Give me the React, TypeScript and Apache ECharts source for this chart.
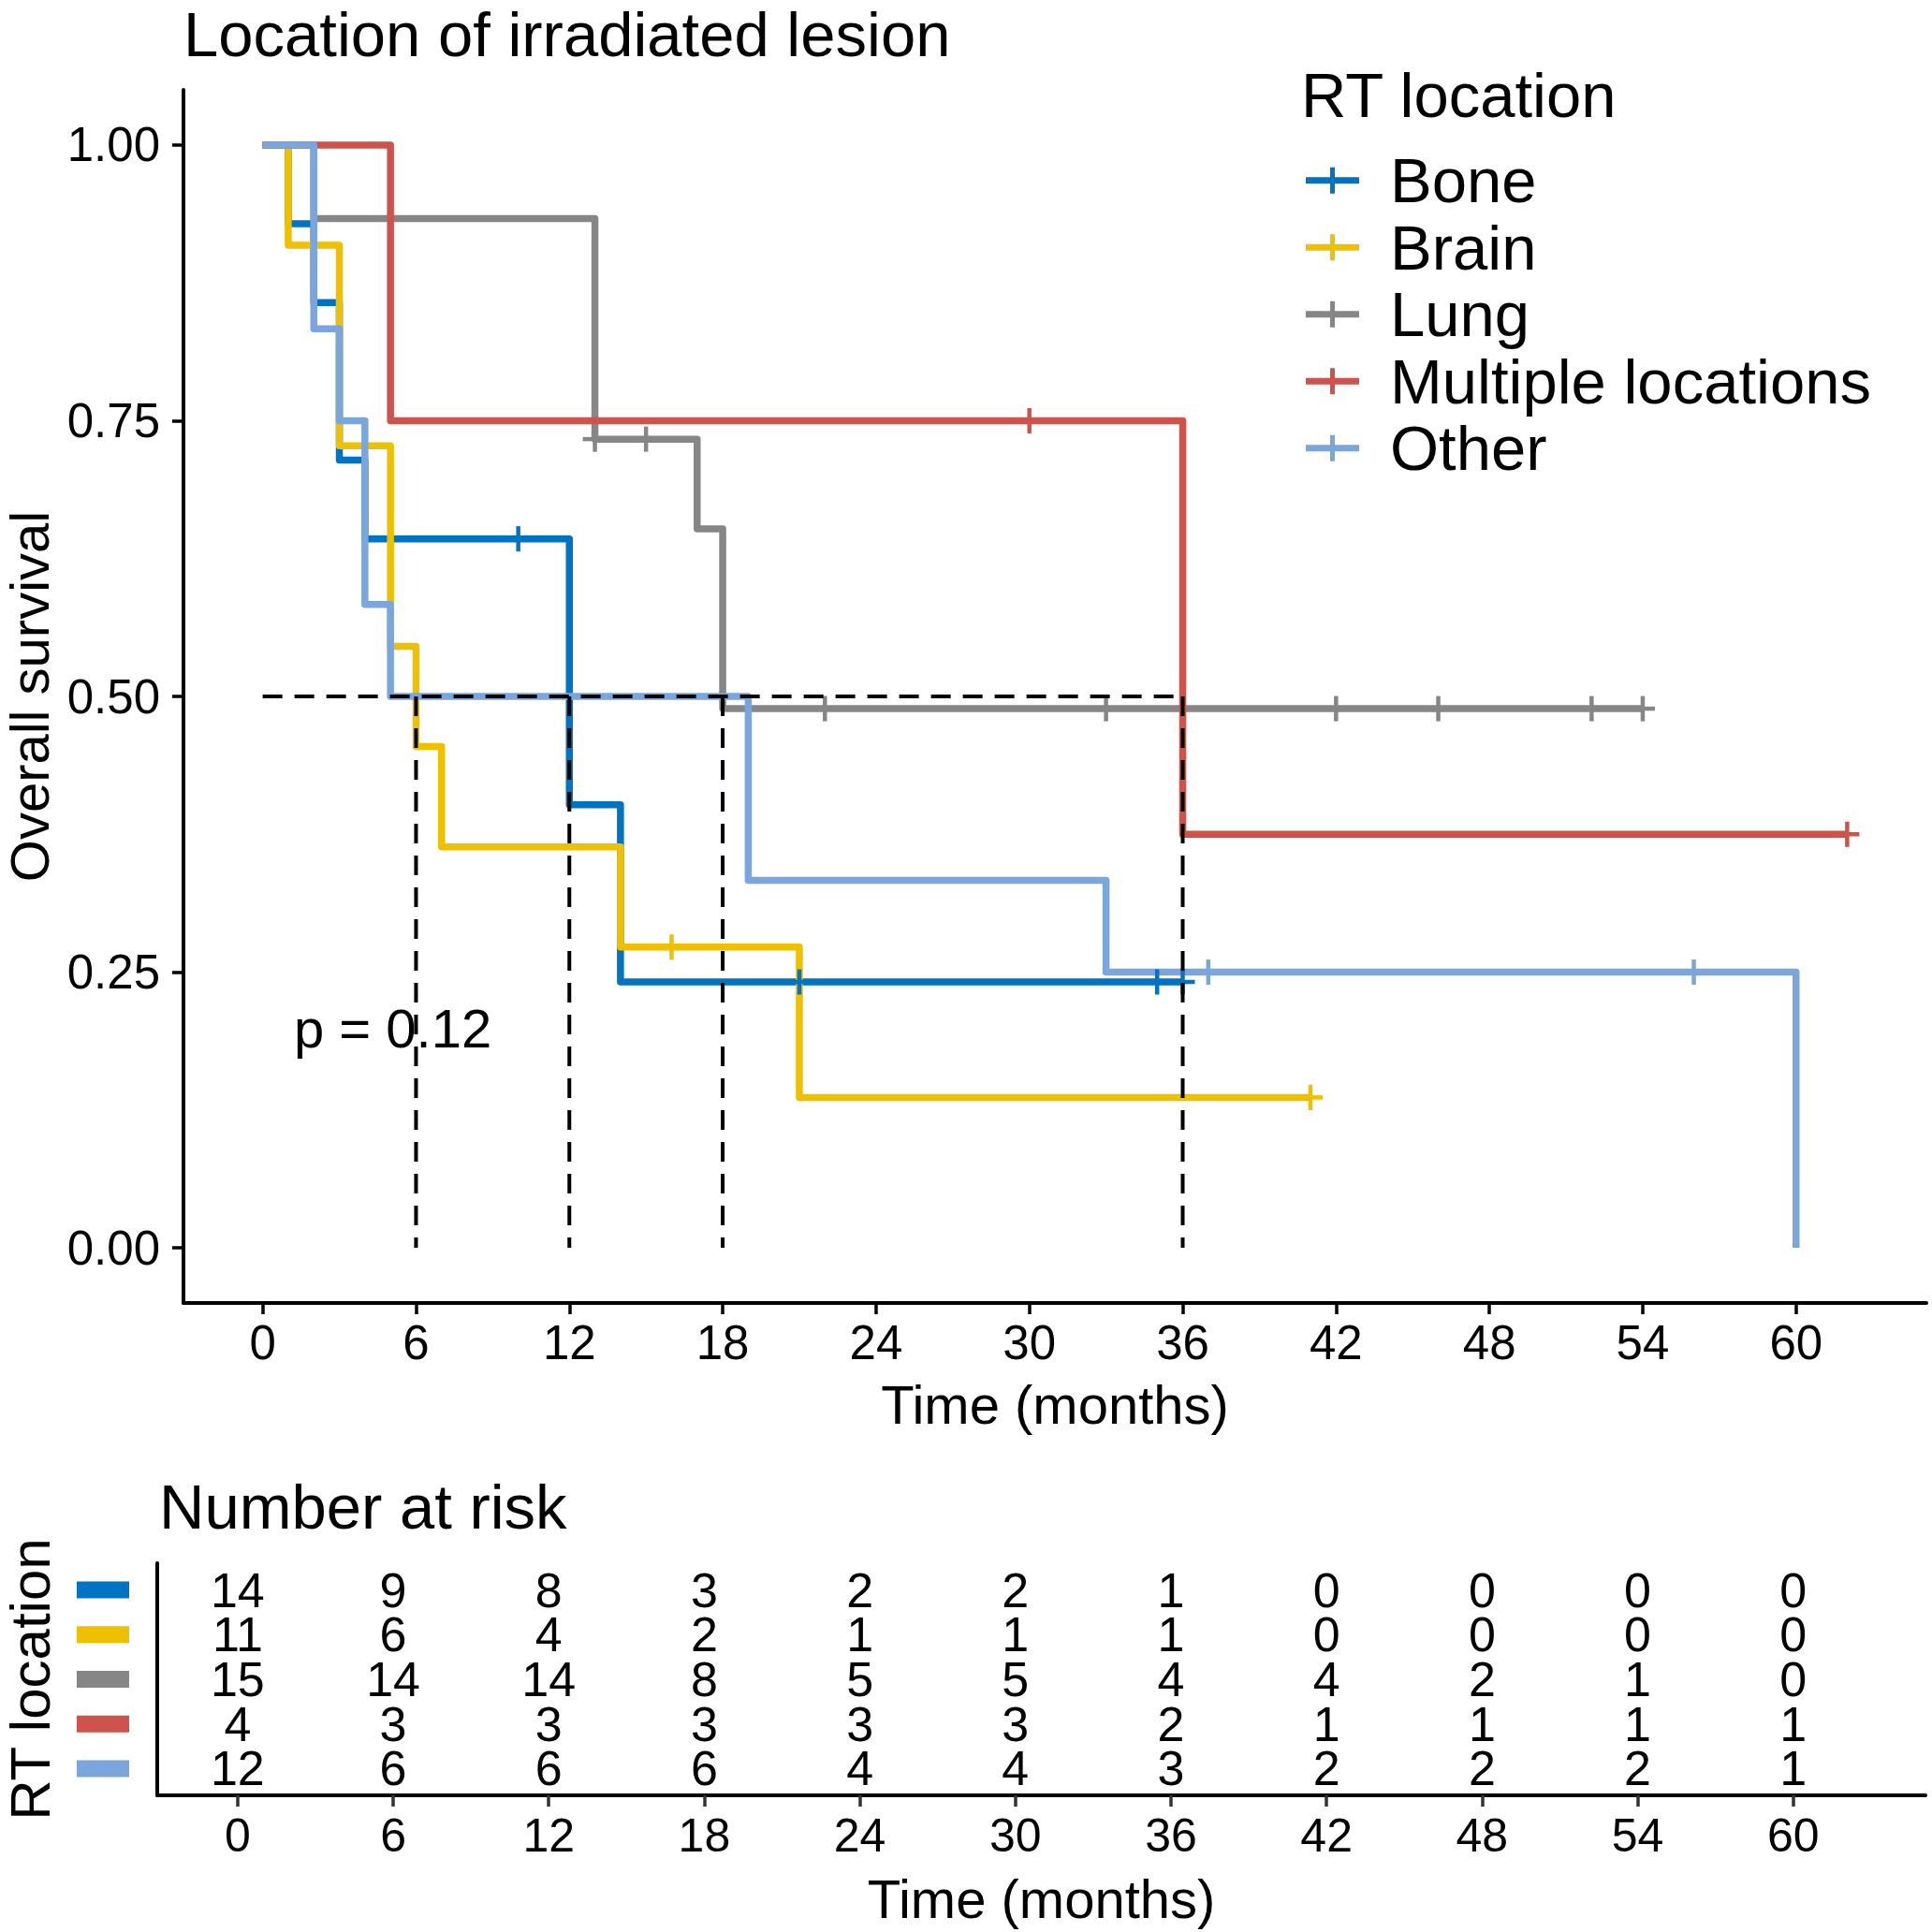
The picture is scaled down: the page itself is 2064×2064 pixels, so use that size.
import React, { useEffect, useRef } from "react";
import * as echarts from "echarts";

const FONT = '"Liberation Sans", Arial, Helvetica, sans-serif';

const groups = ["Bone", "Brain", "Lung", "Multiple locations", "Other"];
const colors = ["#0073C2", "#EFC000", "#868686", "#CD534C", "#7AA6DC"];

// Kaplan–Meier survival: [time in months, survival after that time]
const boneSteps = [[0, 1], [1, 0.9286], [2, 0.8571], [3, 0.7143], [4, 0.6429], [12, 0.4018], [14, 0.2411], [36, 0.2411]];
const brainSteps = [[0, 1], [1, 0.9091], [3, 0.7273], [5, 0.5455], [6, 0.4545], [7, 0.3636], [14, 0.2727], [21, 0.1364], [41, 0.1364]];
const lungSteps = [[0, 1], [2, 0.9333], [13, 0.7333], [17, 0.6519], [18, 0.4889], [54, 0.4889]];
const multipleSteps = [[0, 1], [5, 0.75], [36, 0.375], [62, 0.375]];
const otherSteps = [[0, 1], [2, 0.8333], [3, 0.75], [4, 0.5833], [5, 0.5], [19, 0.3333], [33, 0.25], [60, 0]];

// Censored observations: [time, survival]
const boneCensor = [[10, 0.6429], [21, 0.2411], [35, 0.2411], [36, 0.2411]];
const brainCensor = [[16, 0.2727], [41, 0.1364]];
const lungCensor = [[13, 0.7333], [15, 0.7333], [22, 0.4889], [33, 0.4889], [42, 0.4889], [46, 0.4889], [52, 0.4889], [54, 0.4889]];
const multipleCensor = [[30, 0.75], [62, 0.375]];
const otherCensor = [[37, 0.25], [56, 0.25]];

// Median survival guide lines
const medianSurvival = 0.5;
const medianTimes = [6, 12, 18, 36];

// Number at risk table
const riskTimes = [0, 6, 12, 18, 24, 30, 36, 42, 48, 54, 60];
const boneRisk = [14, 9, 8, 3, 2, 2, 1, 0, 0, 0, 0];
const brainRisk = [11, 6, 4, 2, 1, 1, 1, 0, 0, 0, 0];
const lungRisk = [15, 14, 14, 8, 5, 5, 4, 4, 2, 1, 0];
const multipleRisk = [4, 3, 3, 3, 3, 3, 2, 1, 1, 1, 1];
const otherRisk = [12, 6, 6, 6, 4, 4, 3, 2, 2, 2, 1];

const xTicks = [0, 6, 12, 18, 24, 30, 36, 42, 48, 54, 60];
const yTicks = [0, 0.25, 0.5, 0.75, 1];
const pValueText = "p = 0.12";

const stepsByGroup = [boneSteps, brainSteps, lungSteps, multipleSteps, otherSteps];
const censorByGroup = [boneCensor, brainCensor, lungCensor, multipleCensor, otherCensor];
const riskByGroup = [boneRisk, brainRisk, lungRisk, multipleRisk, otherRisk];

function buildOption() {
  const xMin = -3.1;
  const xMax = 65.1;

  const survivalLines = groups.map((g, i) => ({
    name: g,
    type: "line",
    xAxisIndex: 0,
    yAxisIndex: 0,
    step: "end",
    symbol: "none",
    showSymbol: false,
    data: stepsByGroup[i],
    z: 2,
    itemStyle: { color: colors[i] },
    lineStyle: { color: colors[i], width: 7.5, join: "round", cap: "butt" },
  }));

  const censorMarks = groups.map((g, i) => ({
    name: g,
    type: "custom",
    xAxisIndex: 0,
    yAxisIndex: 0,
    z: 3,
    itemStyle: { color: colors[i] },
    data: censorByGroup[i],
    renderItem: (_params: any, api: any) => {
      const p = api.coord([api.value(0), api.value(1)]);
      return {
        type: "group",
        children: [
          { type: "line", shape: { x1: p[0] - 13, y1: p[1], x2: p[0] + 13, y2: p[1] }, style: { stroke: colors[i], lineWidth: 4.5 } },
          { type: "line", shape: { x1: p[0], y1: p[1] - 13.5, x2: p[0], y2: p[1] + 13.5 }, style: { stroke: colors[i], lineWidth: 4.5 } },
        ],
      };
    },
  }));

  const lastMedian = Math.max(...medianTimes);
  const medianSegments = [
    [0, medianSurvival, lastMedian, medianSurvival],
    ...medianTimes.map((t) => [t, medianSurvival, t, 0]),
  ];

  const medianSeries = {
    name: "median",
    type: "custom",
    xAxisIndex: 0,
    yAxisIndex: 0,
    z: 4,
    data: medianSegments,
    encode: { x: [0, 2], y: [1, 3] },
    renderItem: (_params: any, api: any) => {
      const a = api.coord([api.value(0), api.value(1)]);
      const b = api.coord([api.value(2), api.value(3)]);
      return {
        type: "line",
        shape: { x1: a[0], y1: a[1], x2: b[0], y2: b[1] },
        style: { stroke: "#000", lineWidth: 4, lineDash: [21, 13] },
      };
    },
  };

  const riskData: number[][] = [];
  riskByGroup.forEach((vals, gi) => {
    const row = groups.length - gi;
    vals.forEach((v, ti) => riskData.push([riskTimes[ti], row, v]));
  });

  const riskSeries = {
    name: "risk",
    type: "custom",
    xAxisIndex: 1,
    yAxisIndex: 1,
    data: riskData,
    renderItem: (_params: any, api: any) => {
      const p = api.coord([api.value(0), api.value(1)]);
      return {
        type: "text",
        x: p[0],
        y: p[1],
        style: {
          text: String(api.value(2)),
          fontSize: 52,
          lineHeight: 40,
          fontFamily: FONT,
          fill: "#000",
          align: "center",
          verticalAlign: "middle",
        },
      };
    },
  };

  const rowRich: Record<string, any> = {};
  groups.forEach((_g, gi) => {
    rowRich["k" + (groups.length - gi)] = { width: 56, height: 18, backgroundColor: colors[gi] };
  });

  const nameStyle = { fontSize: 58, color: "#000", fontFamily: FONT };

  return {
    animation: false,
    backgroundColor: "#fff",
    title: [
      { text: "Location of irradiated lesion", left: 196, top: 3, padding: 0, textStyle: { fontSize: 67, fontWeight: "normal", color: "#000", fontFamily: FONT } },
      { text: "RT location", left: 1390, top: 68, padding: 0, textStyle: { fontSize: 67, fontWeight: "normal", color: "#000", fontFamily: FONT } },
      { text: "Number at risk", left: 170, top: 1576, padding: 0, textStyle: { fontSize: 67, fontWeight: "normal", color: "#000", fontFamily: FONT } },
    ],
    legend: {
      data: groups,
      orient: "vertical",
      left: 1395,
      top: 157,
      padding: 0,
      itemGap: 0,
      itemWidth: 57,
      itemHeight: 28,
      icon: "path://M0,10.5L57,10.5L57,17.5L0,17.5Z M26,0L31,0L31,28L26,28Z",
      textStyle: { fontSize: 67, color: "#000", fontFamily: FONT, lineHeight: 71.5, padding: [0, 0, 0, 28] },
      selectedMode: false,
    },
    grid: [
      { left: 196, top: 96, width: 1862, height: 1296, outerBoundsMode: "none", containLabel: false },
      { left: 168, top: 1670, width: 1889, height: 248, outerBoundsMode: "none", containLabel: false },
    ],
    xAxis: [
      {
        gridIndex: 0,
        type: "value",
        min: xMin,
        max: xMax,
        splitLine: { show: false },
        axisLine: { onZero: false, lineStyle: { color: "#000", width: 4 } },
        axisTick: { show: true, length: 12, customValues: xTicks, lineStyle: { color: "#000", width: 3.5 } },
        axisLabel: { customValues: xTicks, margin: 17, fontSize: 51, color: "#000", fontFamily: FONT },
        name: "Time (months)",
        nameLocation: "middle",
        nameGap: 79,
        nameTextStyle: nameStyle,
      },
      {
        gridIndex: 1,
        type: "value",
        min: xMin,
        max: xMax,
        splitLine: { show: false },
        axisLine: { onZero: false, lineStyle: { color: "#000", width: 4 } },
        axisTick: { show: true, length: 12, customValues: riskTimes, lineStyle: { color: "#333", width: 3.5 } },
        axisLabel: { customValues: riskTimes, margin: 18, fontSize: 50, color: "#000", fontFamily: FONT },
        name: "Time (months)",
        nameLocation: "middle",
        nameGap: 81,
        nameTextStyle: nameStyle,
      },
    ],
    yAxis: [
      {
        gridIndex: 0,
        type: "value",
        min: -0.05,
        max: 1.05,
        splitLine: { show: false },
        axisLine: { onZero: false, lineStyle: { color: "#000", width: 4 } },
        axisTick: { show: true, length: 12, customValues: yTicks, lineStyle: { color: "#000", width: 3.5 } },
        axisLabel: { customValues: yTicks, margin: 25, formatter: (v: number) => v.toFixed(2), fontSize: 51, color: "#000", fontFamily: FONT },
        name: "Overall survival",
        nameLocation: "middle",
        nameRotate: 90,
        nameGap: 133,
        nameTextStyle: nameStyle,
      },
      {
        gridIndex: 1,
        type: "value",
        min: 0.4,
        max: 5.6,
        splitLine: { show: false },
        axisLine: { onZero: false, lineStyle: { color: "#000", width: 4 } },
        axisTick: { show: false },
        axisLabel: {
          customValues: [1, 2, 3, 4, 5],
          margin: 30,
          formatter: (v: number) => `{k${v}| }`,
          rich: rowRich,
        },
        name: "RT location",
        nameLocation: "middle",
        nameRotate: 90,
        nameGap: 106,
        nameTextStyle: { ...nameStyle, fontSize: 60 },
      },
    ],
    graphic: [
      {
        type: "text",
        x: 314,
        y: 1098,
        z: 10,
        style: { text: pValueText, fontSize: 58, fontFamily: FONT, fill: "#000", verticalAlign: "middle" },
      },
    ],
    series: [...survivalLines, ...censorMarks, medianSeries, riskSeries],
  };
}

export default function App() {
  const ref = useRef<HTMLDivElement>(null);
  useEffect(() => {
    if (!ref.current) return;
    const chart = echarts.init(ref.current, null, { renderer: "svg", width: 2064, height: 2064 });
    chart.setOption(buildOption() as any);
    return () => chart.dispose();
  }, []);
  return (
    <div
      ref={ref}
      style={{ position: "absolute", left: 0, top: 0, width: 2064, height: 2064, background: "#fff" }}
    />
  );
}
